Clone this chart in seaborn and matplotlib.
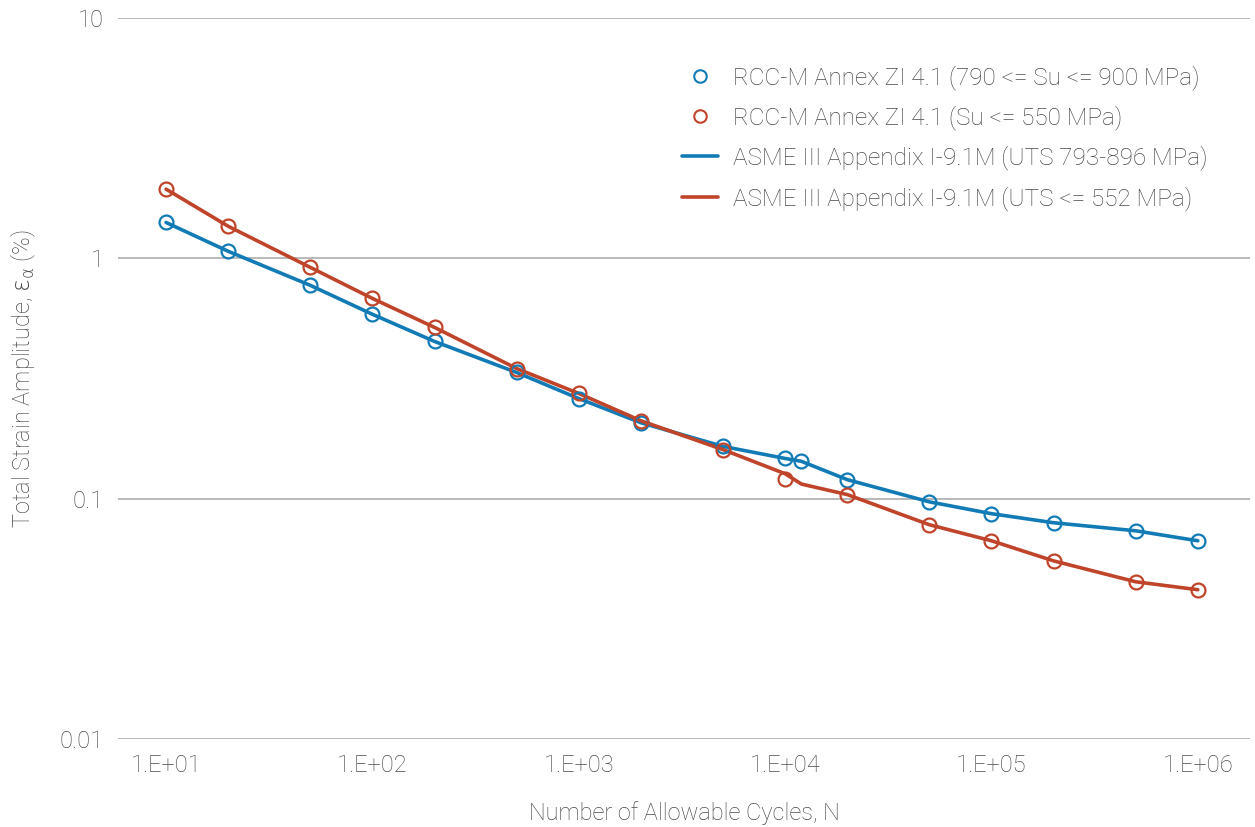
import matplotlib
matplotlib.use("Agg")
import matplotlib.pyplot as plt
import seaborn as sns
import pandas as pd
from matplotlib.ticker import FixedLocator, NullLocator, NullFormatter
from matplotlib.lines import Line2D

# --- data ---
rcc_hi_N = [10, 20, 50, 100, 200, 500, 1000, 2000, 5000, 10000, 12000, 20000,
            50000, 100000, 200000, 500000, 1000000]
rcc_hi_eps = [1.41, 1.07, 0.772, 0.585, 0.451, 0.335, 0.261, 0.207, 0.165, 0.147,
              0.143, 0.120, 0.097, 0.0866, 0.0794, 0.0735, 0.0668]

rcc_lo_N = [10, 20, 50, 100, 200, 500, 1000, 2000, 5000, 10000, 20000,
            50000, 100000, 200000, 500000, 1000000]
rcc_lo_eps = [1.94, 1.36, 0.917, 0.681, 0.516, 0.348, 0.274, 0.211, 0.160, 0.121,
              0.104, 0.0779, 0.0668, 0.0551, 0.0451, 0.0418]

asme_hi_N = rcc_hi_N
asme_hi_eps = rcc_hi_eps

asme_lo_N = [10, 20, 50, 100, 200, 500, 1000, 2000, 5000, 10000, 12000, 20000,
             50000, 100000, 200000, 500000, 1000000]
asme_lo_eps = [1.94, 1.36, 0.917, 0.681, 0.516, 0.348, 0.274, 0.211, 0.160, 0.127,
               0.115, 0.104, 0.0779, 0.0668, 0.0551, 0.0451, 0.0418]

lab_rcc_hi = "RCC-M Annex ZI 4.1 (790 <= Su <= 900 MPa)"
lab_rcc_lo = "RCC-M Annex ZI 4.1 (Su <= 550 MPa)"
lab_asme_hi = "ASME III Appendix I-9.1M (UTS 793-896 MPa)"
lab_asme_lo = "ASME III Appendix I-9.1M (UTS <= 552 MPa)"

x_ticks = [1e1, 1e2, 1e3, 1e4, 1e5, 1e6]
x_tick_labels = ["1.E+01", "1.E+02", "1.E+03", "1.E+04", "1.E+05", "1.E+06"]
y_ticks = [0.01, 0.1, 1, 10]
y_tick_labels = ["0.01", "0.1", "1", "10"]

BLUE = "#127bb6"
RED = "#c0442a"
TEXT = "#4a4a4a"
GRID = "#a6a6a6"

sns.set_theme(style="white")
plt.rcParams["font.family"] = ["Roboto", "DejaVu Sans"]
plt.rcParams["font.weight"] = "light"
plt.rcParams["axes.labelweight"] = "light"

lines_df = pd.concat([
    pd.DataFrame({"N": asme_hi_N, "eps": asme_hi_eps, "series": lab_asme_hi}),
    pd.DataFrame({"N": asme_lo_N, "eps": asme_lo_eps, "series": lab_asme_lo}),
], ignore_index=True)
pts_df = pd.concat([
    pd.DataFrame({"N": rcc_hi_N, "eps": rcc_hi_eps, "series": lab_rcc_hi}),
    pd.DataFrame({"N": rcc_lo_N, "eps": rcc_lo_eps, "series": lab_rcc_lo}),
], ignore_index=True)

fig = plt.figure(figsize=(12.55, 8.27), dpi=100)
ax = fig.add_axes([118 / 1255, 1 - 739 / 827, (1250 - 118) / 1255, (739 - 18) / 827])

ax.set_xscale("log")
ax.set_yscale("log")

sns.lineplot(data=lines_df, x="N", y="eps", hue="series",
             palette={lab_asme_hi: BLUE, lab_asme_lo: RED},
             linewidth=2.6, ax=ax, sort=False, legend=False, zorder=2)

for lab, col in [(lab_rcc_hi, BLUE), (lab_rcc_lo, RED)]:
    sub = pts_df[pts_df["series"] == lab]
    ax.plot(sub["N"], sub["eps"], linestyle="none", marker="o", markersize=10,
            markerfacecolor="none", markeredgecolor=col, markeredgewidth=1.6, zorder=3)

ax.set_xlim(5.85, 1.79e6)
ax.set_ylim(0.01, 10)

ax.yaxis.set_major_locator(FixedLocator(y_ticks))
ax.set_yticklabels(y_tick_labels)
ax.yaxis.set_minor_locator(NullLocator())
ax.yaxis.set_minor_formatter(NullFormatter())
ax.xaxis.set_major_locator(FixedLocator(x_ticks))
ax.set_xticklabels(x_tick_labels)
ax.xaxis.set_minor_locator(NullLocator())
ax.xaxis.set_minor_formatter(NullFormatter())

ax.grid(axis="y", which="major", color=GRID, linewidth=1.1)
ax.grid(axis="x", visible=False)
ax.set_axisbelow(True)
for s in ax.spines.values():
    s.set_visible(False)

ax.tick_params(axis="both", which="both", length=0, labelsize=17, labelcolor=TEXT)
ax.tick_params(axis="y", pad=10)
ax.tick_params(axis="x", pad=11)

ax.set_xlabel("Number of Allowable Cycles, N", fontsize=17, color=TEXT, labelpad=17)
ax.set_ylabel(r"Total Strain Amplitude, $\mathrm{\epsilon_{\alpha}}$ (%)", fontsize=17,
              color=TEXT, labelpad=16)

handles = [
    Line2D([], [], linestyle="none", marker="o", markersize=9, markerfacecolor="none",
           markeredgecolor=BLUE, markeredgewidth=1.5),
    Line2D([], [], linestyle="none", marker="o", markersize=9, markerfacecolor="none",
           markeredgecolor=RED, markeredgewidth=1.5),
    Line2D([], [], color=BLUE, linewidth=2.6),
    Line2D([], [], color=RED, linewidth=2.6),
]
leg = ax.legend(handles, [lab_rcc_hi, lab_rcc_lo, lab_asme_hi, lab_asme_lo],
                loc="upper left", bbox_to_anchor=(660 / 1255, 1 - 43 / 827),
                bbox_transform=fig.transFigure, frameon=False,
                fontsize=17.5, handlelength=1.5, handletextpad=0.6, labelspacing=0.645)
for t in leg.get_texts():
    t.set_color(TEXT)

fig.savefig("out.png", dpi=100)
